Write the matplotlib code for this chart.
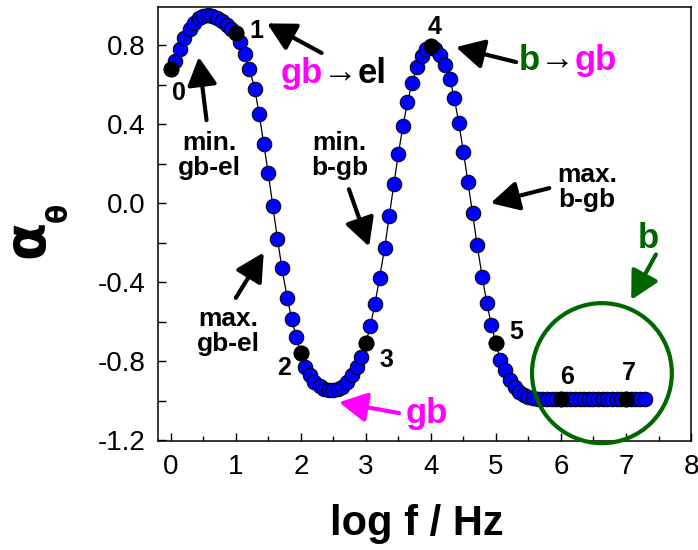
import numpy as np
import matplotlib.pyplot as plt
from matplotlib.patches import Ellipse
from matplotlib.ticker import MultipleLocator, FormatStrFormatter

plt.rcParams['font.family'] = ['Liberation Sans', 'DejaVu Sans']
plt.rcParams['axes.unicode_minus'] = False
plt.rcParams['mathtext.fontset'] = 'dejavusans'

# --- data (14 points per decade) ---
log_f = [0.00, 0.07, 0.14, 0.21, 0.29, 0.36, 0.43, 0.50, 0.57, 0.64, 0.71, 0.79, 0.86, 0.93,
         1.00, 1.07, 1.14, 1.21, 1.29, 1.36, 1.43, 1.50, 1.57, 1.64, 1.71, 1.79, 1.86, 1.93,
         2.00, 2.07, 2.14, 2.21, 2.29, 2.36, 2.43, 2.50, 2.57, 2.64, 2.71, 2.79, 2.86, 2.93,
         3.00, 3.07, 3.14, 3.21, 3.29, 3.36, 3.43, 3.50, 3.57, 3.64, 3.71, 3.79, 3.86, 3.93,
         4.00, 4.07, 4.14, 4.21, 4.29, 4.36, 4.43, 4.50, 4.57, 4.64, 4.71, 4.79, 4.86, 4.93,
         5.00, 5.07, 5.14, 5.21, 5.29, 5.36, 5.43, 5.50, 5.57, 5.64, 5.71, 5.79, 5.86, 5.93,
         6.00, 6.07, 6.14, 6.21, 6.29, 6.36, 6.43, 6.50, 6.57, 6.64, 6.71, 6.79, 6.86, 6.93,
         7.00, 7.07, 7.14, 7.21, 7.29]

alpha = [0.68, 0.72, 0.78, 0.835, 0.88, 0.912, 0.935, 0.948, 0.952, 0.948, 0.938, 0.922, 0.903, 0.882,
         0.86, 0.815, 0.755, 0.68, 0.58, 0.45, 0.30, 0.15, -0.015, -0.18, -0.33, -0.48, -0.585, -0.68,
         -0.76, -0.83, -0.87, -0.905, -0.928, -0.94, -0.945, -0.945, -0.94, -0.93, -0.905, -0.87, -0.83, -0.78,
         -0.71, -0.62, -0.51, -0.38, -0.225, -0.065, 0.095, 0.25, 0.39, 0.51, 0.61, 0.69, 0.745, 0.78,
         0.795, 0.78, 0.75, 0.70, 0.63, 0.53, 0.405, 0.26, 0.106, -0.05, -0.21, -0.375, -0.506, -0.618,
         -0.709, -0.795, -0.846, -0.896, -0.93, -0.957, -0.972, -0.982, -0.987, -0.99, -0.99, -0.99, -0.99, -0.99,
         -0.99, -0.99, -0.99, -0.99, -0.99, -0.99, -0.99, -0.99, -0.99, -0.99, -0.99, -0.99, -0.99, -0.99,
         -0.99, -0.99, -0.99, -0.99, -0.99]

key_x = [0, 1, 2, 3, 4, 5, 6, 7]
key_labels = ['0', '1', '2', '3', '4', '5', '6', '7']
# where the point numbers sit (data coords)
key_label_pos = [(0.12, 0.56), (1.32, 0.87), (1.74, -0.835), (3.31, -0.795),
                 (4.05, 0.89), (5.31, -0.653), (6.09, -0.88), (7.05, -0.86)]

MAGENTA = '#FF00FF'
GREEN = '#006600'

fig = plt.figure(figsize=(6.98, 5.5), dpi=100)
ax = fig.add_axes([0.226, 0.198, 0.764, 0.79])

ax.plot(log_f, alpha, '-', color='k', lw=0.9, marker='o', ms=10.5,
        mfc='#0000FF', mec='k', mew=0.7, zorder=3)

key_y = [alpha[log_f.index(float(k))] for k in key_x]
ax.plot(key_x, key_y, 'o', ms=10.5, mfc='k', mec='k', zorder=4)

for lab, (tx, ty) in zip(key_labels, key_label_pos):
    ax.text(tx, ty, lab, fontsize=18, fontweight='bold', ha='center', va='center', zorder=5)

ax.set_xlim(-0.2, 8.0)
ax.set_ylim(-1.205, 0.995)
ax.xaxis.set_major_locator(MultipleLocator(1))
ax.xaxis.set_minor_locator(MultipleLocator(0.5))
ax.yaxis.set_major_locator(MultipleLocator(0.4))
ax.yaxis.set_minor_locator(MultipleLocator(0.2))
ax.yaxis.set_major_formatter(FormatStrFormatter('%.1f'))
ax.tick_params(which='both', direction='in', top=False, right=False, width=1.0, labelsize=20)
ax.tick_params(axis='x', which='major', length=6, pad=9)
ax.tick_params(axis='x', which='minor', length=3.5)
ax.tick_params(axis='y', which='both', length=6, pad=9)
for sp in ax.spines.values():
    sp.set_linewidth(1.1)

ax.set_xlabel('log f / Hz', fontsize=30, fontweight='bold')
ax.xaxis.set_label_coords(0.485, -0.145)

# y label: alpha with a small theta subscript
fig.text(0.046, 0.56, r'$\mathbf{\alpha}$', fontsize=40, rotation=90, ha='center', va='center')
fig.text(0.087, 0.61, r'$\mathbf{\theta}$', fontsize=20, rotation=90, ha='center', va='center')

# arrows
def arrow(tail, tip, color='k'):
    ax.annotate('', xy=tip, xytext=tail,
                arrowprops=dict(arrowstyle='-|>,head_length=0.85,head_width=0.45',
                                mutation_scale=20, lw=3, color=color,
                                shrinkA=0, shrinkB=0), zorder=6)

txt = dict(fontsize=19, fontweight='bold', ha='center', va='center', linespacing=1.05)
ax.text(0.6, 0.24, 'min.\ngb-el', **txt)
arrow((0.55, 0.42), (0.43, 0.74))
ax.text(2.6, 0.24, 'min.\nb-gb', **txt)
arrow((2.74, 0.07), (3.05, -0.22))
ax.text(6.4, 0.08, 'max.\nb-gb', **txt)
arrow((5.82, 0.076), (4.92, 0.0))
ax.text(0.89, -0.65, 'max.\ngb-el', **txt)
arrow((1.0, -0.48), (1.43, -0.25))

arrow((2.32, 0.76), (1.48, 0.91))
arrow((5.31, 0.714), (4.385, 0.79))

# gb -> el
big = dict(fontsize=25, fontweight='bold')
t1 = ax.text(1.69, 0.658, 'gb', color=MAGENTA, ha='left', va='center', **big)
t2 = ax.annotate('\u2192', xy=(1, 0), xycoords=t1, ha='left', va='bottom', color='k', **big)
ax.annotate('el', xy=(1, 0), xycoords=t2, ha='left', va='bottom', color='k', **big)

# b -> gb
t1 = ax.text(5.35, 0.724, 'b', color=GREEN, ha='left', va='center', **big)
t2 = ax.annotate('\u2192', xy=(1, 0), xycoords=t1, ha='left', va='bottom', color='k', **big)
ax.annotate('gb', xy=(1, 0), xycoords=t2, ha='left', va='bottom', color=MAGENTA, **big)

# gb trough
ax.text(3.94, -1.063, 'gb', color=MAGENTA, ha='center', va='center', **big)
arrow((3.51, -1.063), (2.585, -1.008), color=MAGENTA)

# b region
ax.add_patch(Ellipse((6.63, -0.861), 2.15, 0.709, fill=False, ec=GREEN, lw=3,
                     clip_on=False, zorder=6))
ax.text(7.35, -0.18, 'b', color=GREEN, ha='center', va='center', **big)
arrow((7.46, -0.26), (7.08, -0.49), color=GREEN)

fig.savefig('out.png', dpi=100)
